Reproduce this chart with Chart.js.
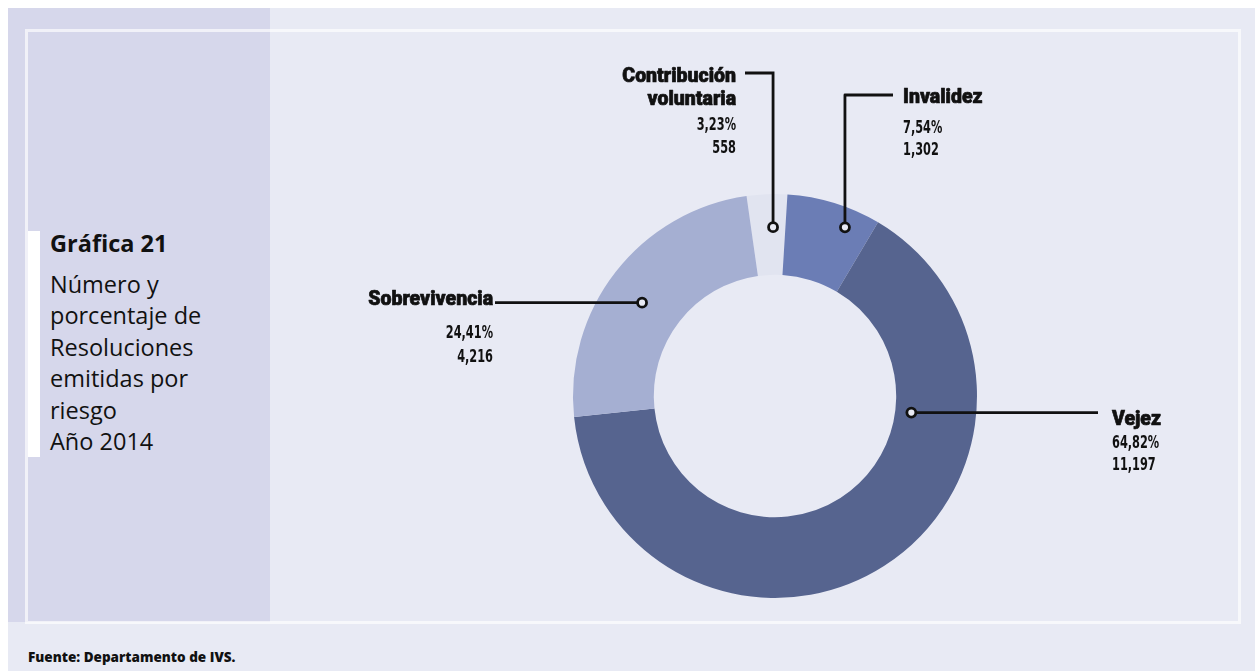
<!DOCTYPE html>
<html>
<head>
<meta charset="utf-8">
<script src="https://cdn.jsdelivr.net/npm/chart.js@4.4.1/dist/chart.umd.min.js"></script>
<style>
  html, body { margin: 0; padding: 0; background: #fff; }
  body { width: 1255px; height: 671px; position: relative; overflow: hidden; font-family: "Open Sans", Roboto, "DejaVu Sans", sans-serif; color: #111; }
  #panel { position: absolute; left: 8px; top: 8px; right: 0; bottom: 0; background: #e8eaf4; }
  #side { position: absolute; left: 8px; top: 8px; width: 262px; height: 614px; background: #d6d7eb; }
  #frame { position: absolute; left: 25px; top: 29px; width: 1210px; height: 589px; border: 3px solid rgba(255,255,255,0.65); }
  #bar { position: absolute; left: 28px; top: 231px; width: 12px; height: 226px; background: #fff; }
  .side-text { position: absolute; left: 50px; font-size: 23.5px; line-height: 31.4px; }
  #title { top: 228px; font-weight: bold; }
  #subtitle { top: 269px; font-weight: 500; }
  #fuente { position: absolute; left: 28px; top: 649px; font-size: 13.5px; line-height: 16px; font-weight: 800; }
  #myChart { position: absolute; left: 0; top: 0; }
</style>
</head>
<body>
<div id="panel"></div>
<div id="side"></div>
<div id="frame"></div>
<div id="bar"></div>
<div class="side-text" id="title">Gráfica 21</div>
<div class="side-text" id="subtitle">Número y<br>porcentaje de<br>Resoluciones<br>emitidas por<br>riesgo<br>Año 2014</div>
<div id="fuente">Fuente: Departamento de IVS.</div>
<canvas id="myChart" width="1255" height="671"></canvas>

<script>
// resoluciones por riesgo, 2014
var categories = ["Contribución voluntaria", "Invalidez", "Vejez", "Sobrevivencia"];
var nameLines = [["Contribución", "voluntaria"], ["Invalidez"], ["Vejez"], ["Sobrevivencia"]];
var counts = [558, 1302, 11197, 4216];
var percentLabels = ["3,23%", "7,54%", "64,82%", "24,41%"];
var countLabels = ["558", "1,302", "11,197", "4,216"];
var sliceColors = ["#e1e4f0", "#6b7db5", "#56648f", "#a5afd2"];

// where each callout sits: dot inside the slice (fraction along arc / across ring),
// then the elbow and where the text goes
var callouts = [
  { along: 0.64, across: 0.59, elbowY: 73, endX: 745, textX: 736, align: "right", lines: [82, 105, 130, 153] },
  { along: 0.70, across: 0.76, elbowY: 95, endX: 893, textX: 903, align: "left", lines: [103, 133, 155] },
  { along: 0.284, across: 0.2, endX: 1098, textX: 1112, align: "left", lines: [425, 448, 470] },
  { along: 0.467, across: 0.51, endX: 495, textX: 493, align: "right", lines: [305, 338, 362] }
];

// narrow figures: draw condensed font squeezed horizontally
function drawNarrow(ctx, text, x, y, squeeze) {
  ctx.save();
  ctx.translate(x, y);
  ctx.scale(squeeze, 1);
  ctx.fillText(text, 0, 0);
  ctx.restore();
}

var calloutPlugin = {
  id: "callouts",
  afterDatasetsDraw: function (chart) {
    var ctx = chart.ctx;
    var arcs = chart.getDatasetMeta(0).data;
    ctx.save();
    for (var i = 0; i < arcs.length; i++) {
      var arc = arcs[i];
      var c = callouts[i];
      var a = arc.startAngle + c.along * (arc.endAngle - arc.startAngle);
      var r = arc.innerRadius + c.across * (arc.outerRadius - arc.innerRadius);
      var px = arc.x + Math.cos(a) * r;
      var py = arc.y + Math.sin(a) * r;

      // leader line
      ctx.strokeStyle = "#111";
      ctx.lineWidth = 2.8;
      ctx.beginPath();
      ctx.moveTo(px, py);
      if (c.elbowY !== undefined) {
        ctx.lineTo(px, c.elbowY);
        ctx.lineTo(c.endX, c.elbowY);
      } else {
        ctx.lineTo(c.endX, py);
      }
      ctx.stroke();

      // dot
      ctx.beginPath();
      ctx.arc(px, py, 4.5, 0, Math.PI * 2);
      ctx.fillStyle = "#e8eaf4";
      ctx.fill();
      ctx.lineWidth = 2.8;
      ctx.stroke();

      // text
      ctx.fillStyle = "#111";
      ctx.textAlign = c.align;
      ctx.textBaseline = "alphabetic";
      var names = nameLines[i];
      ctx.font = "900 19.5px Roboto, sans-serif";
      ctx.lineWidth = 0.7;
      ctx.lineJoin = "round";
      for (var k = 0; k < names.length; k++) {
        ctx.fillText(names[k], c.textX, c.lines[k]);
        ctx.strokeText(names[k], c.textX, c.lines[k]);
      }
      ctx.font = "bold 17.5px 'DejaVu Sans Condensed', sans-serif";
      drawNarrow(ctx, percentLabels[i], c.textX, c.lines[names.length], 0.72);
      drawNarrow(ctx, countLabels[i], c.textX, c.lines[names.length + 1], 0.72);
    }
    ctx.restore();
  }
};

var ctx = document.getElementById("myChart").getContext("2d");
var myChart = new Chart(ctx, {
  type: "doughnut",
  data: {
    labels: categories,
    datasets: [{
      data: counts,
      backgroundColor: sliceColors,
      borderWidth: 0,
      hoverOffset: 0
    }]
  },
  options: {
    responsive: false,
    animation: false,
    cutout: "60%",
    rotation: -8.1,
    layout: { padding: { left: 573, top: 194, right: 278, bottom: 73 } },
    plugins: {
      legend: { display: false },
      tooltip: { enabled: false }
    }
  },
  plugins: [calloutPlugin]
});
</script>
</body>
</html>
